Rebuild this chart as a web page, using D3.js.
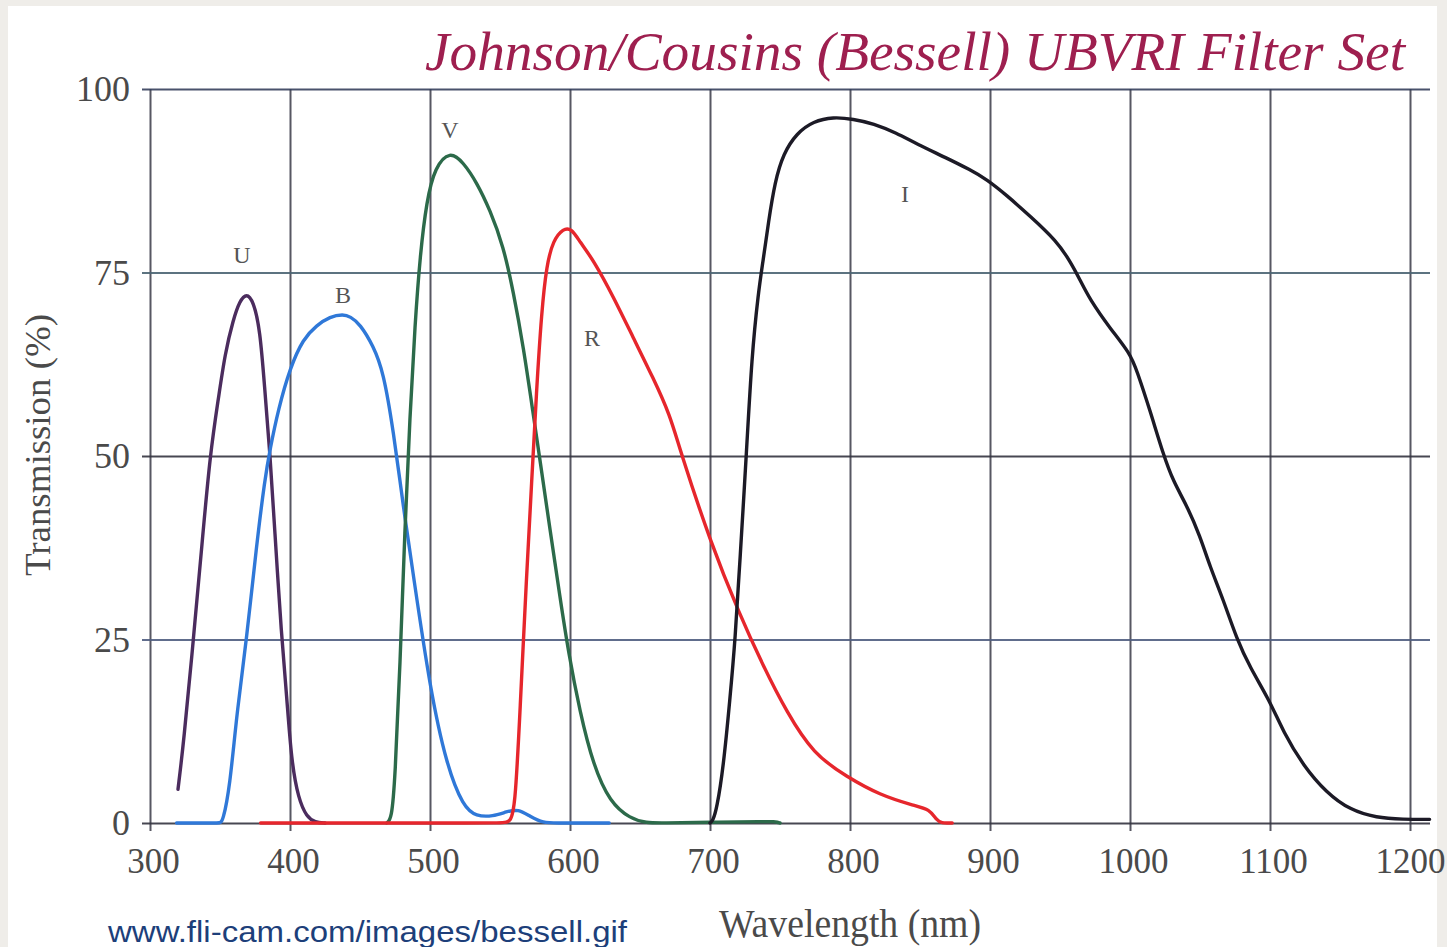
<!DOCTYPE html>
<html>
<head>
<meta charset="utf-8">
<title>Johnson/Cousins (Bessell) UBVRI Filter Set</title>
<script src="https://cdn.jsdelivr.net/npm/d3@7"></script>
<style>
  html, body { margin: 0; padding: 0; background: #efede9; }
  svg { display: block; }
</style>
</head>
<body>
<svg id="chart" width="1447" height="947"></svg>
<script>
// Wavelength (nm) and transmission (%) samples for each filter curve
const uCurve = [[320,4.6],[324,10.9],[331,25],[337,37.7],[343,50.4],[349,58],[353.6,64],[359.5,68.6],[364,71.1],[369,72.2],[373.8,71.1],[378.6,67.3],[382,59],[385.7,50.4],[389,40.2],[394,25.2],[397.6,17.5],[401,8.4],[406,3.3],[412,0.8],[418,0.1],[425,0]];
const bCurve = [[319,0],[335,0],[345,0],[350,0],[352,0.2],[357,4.8],[362,15],[369,25],[376,37.7],[382,46.8],[385.7,50.9],[391.7,56.4],[400,62],[409.5,66],[419,67.8],[428.6,69],[438,69.3],[443,69],[450,68],[459.5,65],[466.7,61.5],[473.8,53.5],[481,43],[488,33.9],[500,18.3],[511.9,7.8],[523.8,2.2],[533,0.9],[545,0.9],[554.8,1.55],[563,1.9],[571.4,0.9],[581,0],[590,0],[610,0],[628,0]];
const vCurve = [[469,0],[472.6,0.5],[475,5.9],[478.6,21.4],[482,40],[485.7,55.6],[489.3,68],[492.9,77.3],[497.6,84.8],[503.6,89.4],[514.3,91.6],[523.8,90],[533.3,87.3],[542.9,83.5],[552.4,78.6],[559.5,72.4],[566.7,64.9],[573.8,55.6],[578.6,49.4],[585.7,40],[592.9,30.7],[598.8,23.3],[607,15.2],[616.7,7.8],[628.6,2.8],[642.9,0.6],[654.8,0],[665,0],[700,0.1],[740,0.2],[746,0.2],[748,0.1],[750,0]];
const rCurve = [[379,0],[420,0],[480,0],[530,0],[550,0],[555,0.1],[557,0.3],[560.7,1.6],[564.3,15.2],[569,33.9],[572.6,46.3],[576,58.7],[579.8,69.9],[583.3,76],[588,79.4],[595.2,81],[601,81],[607,79.2],[616.7,76.7],[631,71.7],[645.2,66.1],[659.5,60.6],[671.4,55.6],[678.6,50.8],[700,38.4],[721.4,28.3],[738,21.4],[754.8,15.1],[773.8,9.4],[797.6,6.3],[821.4,3.8],[845.2,2.4],[857,1.9],[862,0.3],[866,0],[869,0],[873,0]];
const iCurve = [[700,0],[702,0.3],[704.8,1.9],[709.5,7.5],[714.3,17],[718,25],[721.4,35.8],[726.2,50.9],[729.8,63.5],[734.5,72.3],[738,76.7],[741.7,81.8],[746.4,87.4],[752.4,91.2],[762,94],[773.8,95.6],[788,96.2],[802.4,95.9],[816.7,95.3],[833.3,94],[847.6,92.5],[869,90.6],[885.7,89],[897.6,87.7],[912,85.5],[928.6,82.7],[947.6,79.3],[957,76.6],[964.3,74],[971.4,71.3],[985.7,67.4],[1000,64],[1004.8,61.7],[1014.3,56.2],[1023.8,50.2],[1031,46.5],[1040.5,43.3],[1050,39.1],[1057,35],[1066.7,30.4],[1076.2,25.1],[1085.7,21.2],[1100,16.6],[1109.5,12.4],[1123.8,7.8],[1140.5,4.1],[1157,1.8],[1176,0.7],[1195,0.5],[1214,0.5]];

const filterNames = ["U", "B", "V", "R", "I"];
const filterCurves = [uCurve, bCurve, vCurve, rCurve, iCurve];
// Label anchor (wavelength nm, transmission %) for each filter name
const labelAnchors = [[365.7,77.5],[437.9,72],[514.3,94.5],[615.7,66.1],[839.3,85.8]];

const xTicks = [300, 400, 500, 600, 700, 800, 900, 1000, 1100, 1200];
const yTicks = [0, 25, 50, 75, 100];

const titleText = "Johnson/Cousins (Bessell) UBVRI Filter Set";
const xLabel = "Wavelength (nm)";
const yLabel = "Transmission (%)";
const sourceText = "www.fli-cam.com/images/bessell.gif";

// ---- layout and styling ----
const colors = { U: "#4b2c5e", B: "#2f78d8", V: "#2c6a4a", R: "#e6262c", I: "#1c1a26" };
const gridColors = { 0: "#33333f", 25: "#4f5d80", 50: "#33333f", 75: "#4a6472", 100: "#353f5c" };
const serif = "'Liberation Serif', 'DejaVu Serif', serif";

const svg = d3.select("#chart");
svg.append("rect").attr("x", 8).attr("y", 6).attr("width", 1429).attr("height", 941).attr("fill", "#ffffff");

const plotLeft = 150, plotRight = 1430, plotTop = 89, plotBottom = 823;
const x = d3.scaleLinear().domain([300, 1200]).range([150, 1410]);
const y = d3.scaleLinear().domain([0, 100]).range([plotBottom, plotTop]);

// vertical grid lines via a bottom axis with long ticks
const xGrid = svg.append("g")
  .attr("transform", `translate(0,${plotBottom + 8})`)
  .call(d3.axisBottom(x).tickValues(xTicks).tickSizeInner(-(plotBottom + 8 - plotTop)).tickSizeOuter(0).tickFormat(""));
xGrid.select(".domain").remove();
xGrid.selectAll(".tick line").attr("stroke", "#3a3a46").attr("stroke-width", 2).attr("opacity", 0.85);

// horizontal grid lines via a left axis with long ticks
const yGrid = svg.append("g")
  .attr("transform", `translate(${plotLeft - 8},0)`)
  .call(d3.axisLeft(y).tickValues(yTicks).tickSizeInner(-(plotRight - plotLeft + 8)).tickSizeOuter(0).tickFormat(""));
yGrid.select(".domain").remove();
yGrid.selectAll(".tick line").attr("stroke", d => gridColors[d]).attr("stroke-width", 2).attr("opacity", 0.9);

// tick labels
const xAxis = svg.append("g")
  .attr("transform", `translate(0,${plotBottom})`)
  .call(d3.axisBottom(x).tickValues(xTicks).tickSize(0).tickPadding(25).tickFormat(d3.format("d")));
xAxis.select(".domain").remove();
xAxis.selectAll("text")
  .attr("font-family", serif).attr("font-size", 35).attr("fill", "#4a4a4a")
  .attr("dx", (d, i) => i === xTicks.length - 1 ? 0 : 3);

const yAxis = svg.append("g")
  .attr("transform", `translate(${plotLeft},0)`)
  .call(d3.axisLeft(y).tickValues(yTicks).tickSize(0).tickPadding(20).tickFormat(d3.format("d")));
yAxis.select(".domain").remove();
yAxis.selectAll("text")
  .attr("font-family", serif).attr("font-size", 36).attr("fill", "#4a4a4a")
  .attr("dy", "0.33em");

// filter transmission curves
const line = d3.line()
  .x(d => x(d[0]))
  .y(d => y(d[1]))
  .curve(d3.curveBasis);

svg.append("g").selectAll("path")
  .data(filterCurves)
  .join("path")
  .attr("d", line)
  .attr("fill", "none")
  .attr("stroke", (d, i) => colors[filterNames[i]])
  .attr("stroke-width", 3.4)
  .attr("stroke-linejoin", "round")
  .attr("stroke-linecap", "round");

// filter name labels
svg.append("g").selectAll("text")
  .data(labelAnchors)
  .join("text")
  .attr("x", d => x(d[0]))
  .attr("y", d => y(d[1]))
  .attr("dy", "0.35em")
  .attr("text-anchor", "middle")
  .attr("font-family", serif)
  .attr("font-size", 24)
  .attr("fill", "#555555")
  .text((d, i) => filterNames[i]);

// title
svg.append("text")
  .attr("x", 425).attr("y", 70)
  .attr("font-family", serif)
  .attr("font-style", "italic")
  .attr("font-size", 54)
  .attr("fill", "#9e1f4f")
  .attr("textLength", 980)
  .attr("lengthAdjust", "spacingAndGlyphs")
  .text(titleText);

// axis titles
svg.append("text")
  .attr("x", 850).attr("y", 937)
  .attr("text-anchor", "middle")
  .attr("font-family", serif)
  .attr("font-size", 40)
  .attr("fill", "#4a4a4a")
  .attr("textLength", 262)
  .attr("lengthAdjust", "spacingAndGlyphs")
  .text(xLabel);

svg.append("text")
  .attr("transform", "translate(50,445) rotate(-90)")
  .attr("text-anchor", "middle")
  .attr("font-family", serif)
  .attr("font-size", 36)
  .attr("fill", "#4a4a4a")
  .attr("textLength", 262)
  .attr("lengthAdjust", "spacingAndGlyphs")
  .text(yLabel);

// source note
svg.append("text")
  .attr("x", 108).attr("y", 942)
  .attr("font-family", "'Liberation Sans', Arial, sans-serif")
  .attr("font-size", 30)
  .attr("fill", "#1d3f7a")
  .attr("textLength", 519)
  .attr("lengthAdjust", "spacingAndGlyphs")
  .text(sourceText);
</script>
</body>
</html>
